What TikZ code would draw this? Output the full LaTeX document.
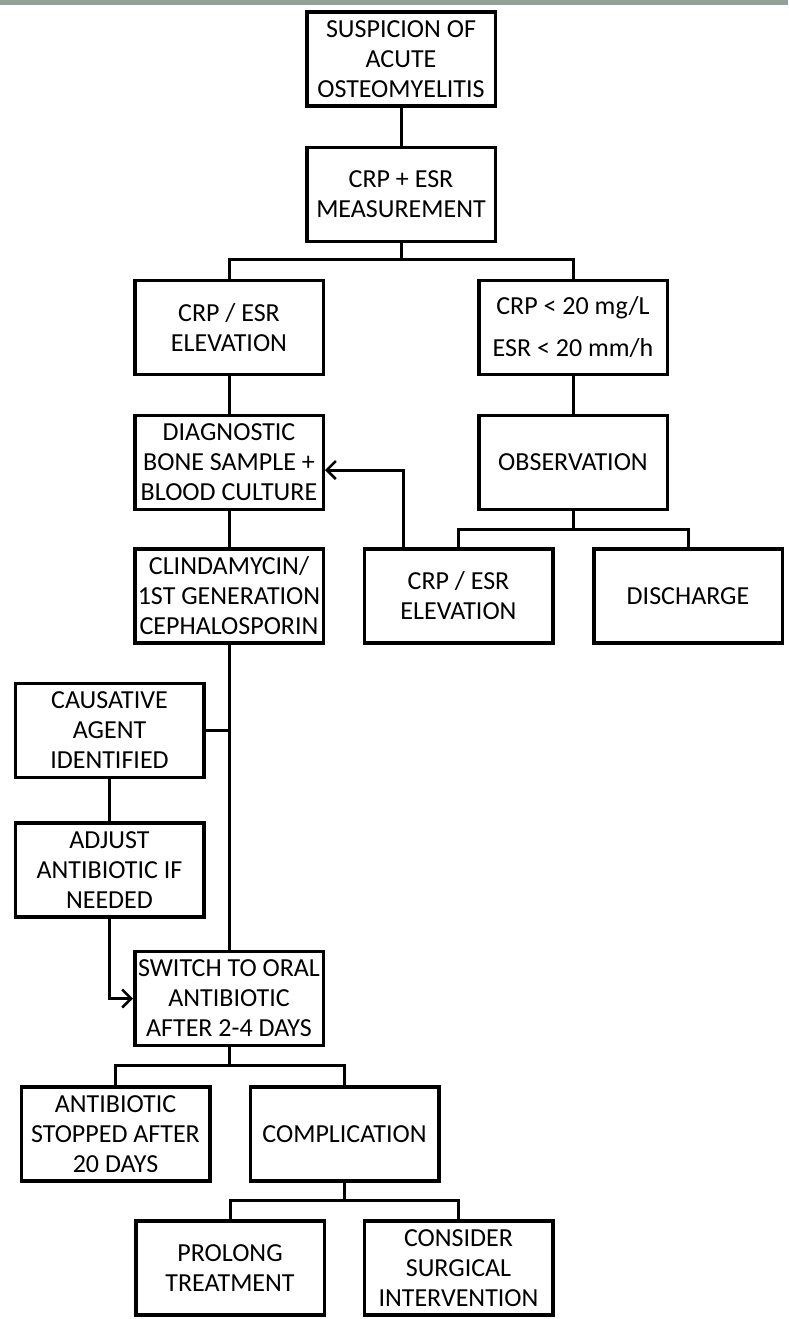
\documentclass[tikz,border=0pt]{standalone}
\usepackage{fontspec}
\setmainfont{Carlito}
\usepackage{tikz}
\usetikzlibrary{arrows.meta}

\definecolor{bargray}{RGB}{146,162,151}

\begin{document}
\begin{tikzpicture}[x=1pt,y=-1pt,
    stepbox/.style={draw,line width=3.5pt,minimum width=188.5pt,minimum height=94pt,
      inner sep=1pt,align=center,font=\fontsize{26}{30}\selectfont},
    link/.style={line width=3pt},
    arrow/.style={link,-{Straight Barb[length=9pt,width=18pt,line width=2.5pt]}}]
    \useasboundingbox (0,0) rectangle (788,1319);
    \fill[bargray] (0,0) rectangle (788,5);

    \node[stepbox] (susp) at (401,59) {SUSPICION OF\\ACUTE\\OSTEOMYELITIS};
    \node[stepbox] (meas) at (401,194.5) {CRP + ESR\\MEASUREMENT};
    \node[stepbox] (elev) at (229,327.5) {CRP / ESR\\ELEVATION};
    \node[stepbox,font=\fontsize{26}{42}\selectfont] (low) at (573,327.5) {CRP < 20 mg/L\\ESR < 20 mm/h};
    \node[stepbox] (diag) at (229,462.5) {DIAGNOSTIC\\BONE SAMPLE +\\BLOOD CULTURE};
    \node[stepbox] (obs) at (573,462.5) {OBSERVATION};
    \node[stepbox] (clin) at (229,596) {CLINDAMYCIN/\\1ST GENERATION\\CEPHALOSPORIN};
    \node[stepbox] (elevb) at (458.5,596) {CRP / ESR\\ELEVATION};
    \node[stepbox] (disch) at (688,596) {DISCHARGE};
    \node[stepbox] (caus) at (109.5,730.5) {CAUSATIVE\\AGENT\\IDENTIFIED};
    \node[stepbox] (adj) at (109.5,870) {ADJUST\\ANTIBIOTIC IF\\NEEDED};
    \node[stepbox] (oral) at (229,998.5) {SWITCH TO ORAL\\ANTIBIOTIC\\AFTER 2-4 DAYS};
    \node[stepbox] (stop) at (115.5,1134) {ANTIBIOTIC\\STOPPED AFTER\\20 DAYS};
    \node[stepbox] (comp) at (344.5,1134) {COMPLICATION};
    \node[stepbox] (prol) at (230,1268) {PROLONG\\TREATMENT};
    \node[stepbox] (surg) at (458.5,1268) {CONSIDER\\SURGICAL\\INTERVENTION};

    \coordinate (fork1) at (401,259);
    \coordinate (fork2) at (573,529);
    \coordinate (fork3) at (229,1065);
    \coordinate (fork4) at (344.5,1200);

    \draw[link] (susp) -- (meas);
    \draw[link] (meas) -- (fork1);
    \draw[link] (elev) |- (fork1) -| (low);
    \draw[link] (elev) -- (diag);
    \draw[link] (low) -- (obs);
    \draw[link] (obs) -- (fork2);
    \draw[link] (elevb) |- (fork2) -| (disch);
    \draw[arrow] ([xshift=-55.5pt]elevb.north) |- ([yshift=-7.5pt]diag.east);
    \draw[link] (diag) -- (clin);
    \draw[link] (clin) -- (oral);
    \draw[link] (caus.east) -- (caus.east -| clin.south);
    \draw[link] (caus) -- (adj);
    \draw[arrow] (adj) |- (oral.west);
    \draw[link] (oral) -- (fork3);
    \draw[link] (stop) |- (fork3) -| (comp);
    \draw[link] (comp) -- (fork4);
    \draw[link] (prol) |- (fork4) -| (surg);
  \end{tikzpicture}
\end{document}
